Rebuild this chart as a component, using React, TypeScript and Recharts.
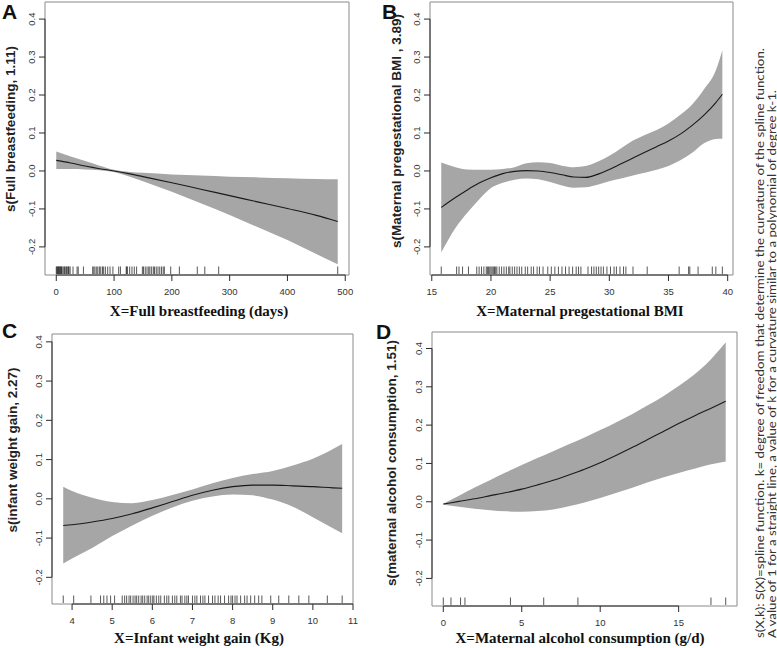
import {
  Area,
  ComposedChart,
  Line,
  ReferenceArea,
  ReferenceLine,
  Scatter,
  XAxis,
  YAxis,
} from "recharts";

// A: full breastfeeding (days)
const fbDays = [0, 25, 50, 75, 100, 125, 150, 200, 250, 300, 350, 400, 450, 487];
const fbFit = [0.028, 0.021, 0.013, 0.006, 0.0, -0.007, -0.015, -0.031, -0.048, -0.065, -0.082, -0.099, -0.117, -0.133];
const fbUpper = [0.051, 0.038, 0.026, 0.014, 0.003, -0.002, -0.005, -0.009, -0.012, -0.015, -0.017, -0.019, -0.021, -0.022];
const fbLower = [0.005, 0.005, 0.004, 0.002, -0.003, -0.014, -0.027, -0.055, -0.085, -0.116, -0.149, -0.182, -0.219, -0.246];
const fbRug = [
  0, 1, 2, 3, 4, 5, 6, 7, 8, 9, 10, 12, 14, 15, 17, 18, 20, 21, 22, 24, 29, 36, 38, 47,
  63, 65, 67, 70, 72, 75, 77, 80, 82, 85, 89, 93, 98, 108, 111, 121, 122, 123, 127, 131,
  135, 139, 149, 151, 154, 157, 160, 162, 165, 168, 170, 173, 176, 179, 182, 185, 187,
  198, 213, 244, 257, 281, 487,
];

// B: maternal pregestational BMI
const bmiX = [15.8, 17, 18, 19, 20, 21, 22, 23, 24, 25, 26, 27, 28, 29, 30, 31, 32, 33, 34, 35, 36, 37, 38, 39, 39.55];
const bmiFit = [-0.096, -0.07, -0.05, -0.032, -0.018, -0.007, -0.001, 0.001, 0.0, -0.004, -0.01, -0.016, -0.017, -0.009, 0.004, 0.019, 0.034, 0.049, 0.064, 0.079, 0.097, 0.12, 0.147, 0.18, 0.202];
const bmiUpper = [0.022, 0.01, 0.004, 0.003, 0.003, 0.005, 0.01, 0.02, 0.023, 0.021, 0.014, 0.01, 0.013, 0.024, 0.04, 0.06, 0.08, 0.095, 0.108, 0.125, 0.148, 0.175, 0.215, 0.265, 0.318];
const bmiLower = [-0.215, -0.15, -0.11, -0.075, -0.045, -0.031, -0.023, -0.02, -0.022, -0.029, -0.038, -0.044, -0.043, -0.036, -0.027, -0.02, -0.012, -0.005, 0.003, 0.013, 0.028, 0.048, 0.073, 0.084, 0.085];
const bmiRug = [
  15.8, 17.1, 17.3, 17.6, 18.1, 18.8, 19.0, 19.2, 19.4, 19.6, 19.7, 19.8, 19.9, 20.0, 20.1,
  20.2, 20.3, 20.4, 20.5, 20.7, 20.9, 21.1, 21.3, 21.5, 21.6, 21.8, 22.0, 22.2, 22.4, 22.6,
  22.9, 23.1, 23.4, 23.6, 23.9, 24.1, 24.4, 24.8, 25.1, 25.4, 25.7, 26.0, 26.3, 26.6, 26.9,
  27.2, 27.4, 27.6, 28.2, 28.5, 28.7, 28.9, 29.1, 29.3, 29.5, 29.8, 30.1, 30.4, 30.6, 30.9,
  31.2, 31.4, 32.0, 33.2, 35.9, 36.7, 36.8, 37.5, 38.7, 39.0, 39.55,
];

// C: infant weight gain (kg)
const iwgX = [3.78, 4, 4.5, 5, 5.5, 6, 6.5, 7, 7.5, 8, 8.5, 9, 9.5, 10, 10.5, 10.73];
const iwgFit = [-0.068, -0.066, -0.059, -0.05, -0.038, -0.023, -0.007, 0.009, 0.022, 0.031, 0.035, 0.035, 0.033, 0.031, 0.028, 0.027];
const iwgUpper = [0.031, 0.02, 0.003, -0.008, -0.011, -0.003, 0.01, 0.024, 0.04, 0.053, 0.063, 0.071, 0.085, 0.102, 0.127, 0.14];
const iwgLower = [-0.165, -0.152, -0.125, -0.095, -0.068, -0.043, -0.022, -0.005, 0.006, 0.011, 0.009, -0.002, -0.02, -0.047, -0.075, -0.088];
const iwgRug = [
  3.78, 4.04, 4.47, 4.71, 4.79, 4.87, 4.96, 5.06, 5.25, 5.31, 5.36, 5.42, 5.46, 5.52, 5.57,
  5.61, 5.66, 5.72, 5.76, 5.81, 5.87, 5.91, 5.96, 6.01, 6.04, 6.1, 6.16, 6.21, 6.3, 6.36,
  6.41, 6.5, 6.56, 6.61, 6.7, 6.74, 6.81, 6.86, 6.9, 7.0, 7.06, 7.11, 7.2, 7.26, 7.31, 7.4,
  7.5, 7.56, 7.64, 7.7, 7.8, 7.9, 7.96, 8.0, 8.06, 8.11, 8.2, 8.3, 8.36, 8.45, 8.55, 8.65,
  8.73, 8.95, 9.15, 9.4, 9.65, 9.9, 10.36, 10.73,
];

// D: maternal alcohol consumption (g/d)
const alcX = [0, 1, 2, 3, 4, 5, 6, 7, 8, 9, 10, 11, 12, 13, 14, 15, 16, 17, 18];
const alcFit = [-0.006, 0.001, 0.008, 0.016, 0.024, 0.033, 0.044, 0.056, 0.07, 0.085, 0.102, 0.121, 0.141, 0.162, 0.183, 0.204, 0.224, 0.243, 0.262];
const alcUpper = [-0.005, 0.016, 0.037, 0.057, 0.077, 0.096, 0.114, 0.132, 0.15, 0.168, 0.187, 0.207, 0.228, 0.251, 0.275, 0.302, 0.332, 0.369, 0.416];
const alcLower = [-0.008, -0.013, -0.018, -0.022, -0.025, -0.026, -0.024, -0.02, -0.012, -0.002, 0.01, 0.023, 0.036, 0.05, 0.063, 0.075, 0.086, 0.097, 0.105];
const alcRug = [0, 0.49, 1.1, 1.38, 4.28, 6.4, 8.58, 17.06, 18];

const yTicks = [-0.2, -0.1, 0, 0.1, 0.2, 0.3, 0.4];

const BAND = "#a6a6a6";
const INK = "#2b2b2b";
const SANS = "'Liberation Sans', Arial, sans-serif";
const SERIF = "'Liberation Serif', 'Times New Roman', serif";

function rows(xs: number[], fit: number[], hi: number[], lo: number[]) {
  return xs.map((x, i) => ({ x, fit: fit[i], hi: hi[i], lo: lo[i] }));
}

function YTick(props: any) {
  const { x, y, payload } = props;
  return (
    <text
      x={x}
      y={y}
      transform={`rotate(-90 ${x} ${y})`}
      textAnchor="middle"
      fontSize={9.5}
      fontFamily={SANS}
      fill="#333"
    >
      {Number(payload.value).toFixed(1)}
    </text>
  );
}

function XTick(props: any) {
  const { x, y, payload } = props;
  return (
    <text x={x} y={y} dy="0.71em" textAnchor="middle" fontSize={9.5} fontFamily={SANS} fill="#333">
      {payload.value}
    </text>
  );
}

function RugMark(props: any) {
  const { cx, cy } = props;
  return <line x1={cx} x2={cx} y1={cy - 1} y2={cy - 8.5} stroke="#222" strokeWidth={0.9} strokeOpacity={0.85} />;
}

type PanelProps = {
  box: { x: number; y: number; w: number; h: number };
  xDomain: [number, number];
  yDomain: [number, number];
  xTicks: number[];
  data: { x: number; fit: number; hi: number; lo: number }[];
  rug: number[];
};

function Panel({ box, xDomain, yDomain, xTicks, data, rug }: PanelProps) {
  const rugData = rug.map((x) => ({ x, y: yDomain[0] }));
  return (
    <div style={{ position: "absolute", left: box.x - 45, top: box.y - 5 }}>
      <ComposedChart
        width={45 + box.w + 5}
        height={5 + box.h + 35}
        data={data}
        margin={{ top: 5, right: 5, left: 0, bottom: 0 }}
      >
        <XAxis
          dataKey="x"
          type="number"
          domain={xDomain}
          ticks={xTicks}
          allowDataOverflow
          axisLine={false}
          tickLine={{ stroke: INK }}
          tickSize={6}
          tickMargin={7}
          tick={<XTick />}
          height={35}
          interval={0}
        />
        <YAxis
          type="number"
          domain={yDomain}
          ticks={yTicks}
          allowDataOverflow
          axisLine={false}
          tickLine={{ stroke: INK }}
          tickSize={6}
          tickMargin={3.5}
          tick={<YTick />}
          width={45}
          interval={0}
        />
        <Area
          dataKey={(d: any) => [d.lo, d.hi]}
          type="monotone"
          fill={BAND}
          fillOpacity={1}
          stroke="none"
          isAnimationActive={false}
        />
        <Line dataKey="fit" type="monotone" stroke="#1a1a1a" strokeWidth={1.1} dot={false} isAnimationActive={false} />
        <Scatter data={rugData} dataKey="y" shape={<RugMark />} isAnimationActive={false} />
        <ReferenceArea
          x1={xDomain[0]}
          x2={xDomain[1]}
          y1={yDomain[0]}
          y2={yDomain[1]}
          fill="none"
          fillOpacity={0}
          stroke="#8a8a8a"
          strokeWidth={1}
          ifOverflow="visible"
        />
        <ReferenceLine
          segment={[
            { x: xTicks[0], y: yDomain[0] },
            { x: xTicks[xTicks.length - 1], y: yDomain[0] },
          ]}
          stroke={INK}
          ifOverflow="visible"
        />
        <ReferenceLine
          segment={[
            { x: xDomain[0], y: yTicks[0] },
            { x: xDomain[0], y: yTicks[yTicks.length - 1] },
          ]}
          stroke={INK}
          ifOverflow="visible"
        />
      </ComposedChart>
    </div>
  );
}

const note1 = "s(X,k): S(X)=spline function. k= degree of freedom that determine the curvature of the spline function.";
const note2 = "A value of 1 for a straight line, a value of k for a curvature similar to a polynomial of degree k-1.";

export default function App() {
  const yTitle = { fontFamily: SANS, fontWeight: 700, fontSize: 13.5, fill: "#222" } as const;
  const xTitle = { fontFamily: SERIF, fontWeight: 700, fontSize: 15, fill: "#111" } as const;
  const letter = { fontFamily: SANS, fontWeight: 700, fontSize: 21, fill: "#111" } as const;
  return (
    <div style={{ position: "absolute", left: 0, top: 0, width: 777, height: 648, background: "#fff", overflow: "hidden" }}>
      <Panel
        box={{ x: 45, y: 2, w: 304, h: 273 }}
        xDomain={[-19.5, 506.5]}
        yDomain={[-0.274, 0.445]}
        xTicks={[0, 100, 200, 300, 400, 500]}
        data={rows(fbDays, fbFit, fbUpper, fbLower)}
        rug={fbRug}
      />
      <Panel
        box={{ x: 430, y: 2, w: 303, h: 273 }}
        xDomain={[14.85, 40.45]}
        yDomain={[-0.274, 0.445]}
        xTicks={[15, 20, 25, 30, 35, 40]}
        data={rows(bmiX, bmiFit, bmiUpper, bmiLower)}
        rug={bmiRug}
      />
      <Panel
        box={{ x: 52, y: 334, w: 301, h: 270 }}
        xDomain={[3.5, 11]}
        yDomain={[-0.268, 0.42]}
        xTicks={[4, 5, 6, 7, 8, 9, 10, 11]}
        data={rows(iwgX, iwgFit, iwgUpper, iwgLower)}
        rug={iwgRug}
      />
      <Panel
        box={{ x: 432, y: 332, w: 305, h: 274 }}
        xDomain={[-0.72, 18.72]}
        yDomain={[-0.272, 0.443]}
        xTicks={[0, 5, 10, 15]}
        data={rows(alcX, alcFit, alcUpper, alcLower)}
        rug={alcRug}
      />
      <svg width={777} height={648} style={{ position: "absolute", left: 0, top: 0, pointerEvents: "none" }}>
        <text x={2} y={19} {...letter}>A</text>
        <text x={382} y={19} {...letter}>B</text>
        <text x={2} y={338} {...letter}>C</text>
        <text x={376} y={339} {...letter}>D</text>

        <text x={15} y={129} transform="rotate(-90 15 129)" textAnchor="middle" {...yTitle}>s(Full breastfeeding, 1.11)</text>
        <text x={401} y={131} transform="rotate(-90 401 131)" textAnchor="middle" {...yTitle}>s(Maternal pregestational BMI , 3.89)</text>
        <text x={17} y={450} transform="rotate(-90 17 450)" textAnchor="middle" {...yTitle}>s(infant weight gain, 2.27)</text>
        <text x={396} y={463} transform="rotate(-90 396 463)" textAnchor="middle" {...yTitle}>s(maternal alcohol consumption, 1.51)</text>

        <text x={199} y={316} textAnchor="middle" {...xTitle}>X=Full breastfeeding (days)</text>
        <text x={580} y={316} textAnchor="middle" {...xTitle}>X=Maternal pregestational BMI</text>
        <text x={199} y={643} textAnchor="middle" {...xTitle}>X=Infant weight gain (Kg)</text>
        <text x={580} y={643} textAnchor="middle" {...xTitle}>X=Maternal alcohol consumption (g/d)</text>

        <text x={764} y={638} transform="rotate(-90 764 638)" fontFamily="Lato, 'Open Sans', sans-serif" fontSize={11.5} fill="#333" textLength={590} lengthAdjust="spacingAndGlyphs">{note1}</text>
        <text x={776} y={638} transform="rotate(-90 776 638)" fontFamily="Lato, 'Open Sans', sans-serif" fontSize={11.5} fill="#333" textLength={548} lengthAdjust="spacingAndGlyphs">{note2}</text>
      </svg>
    </div>
  );
}
